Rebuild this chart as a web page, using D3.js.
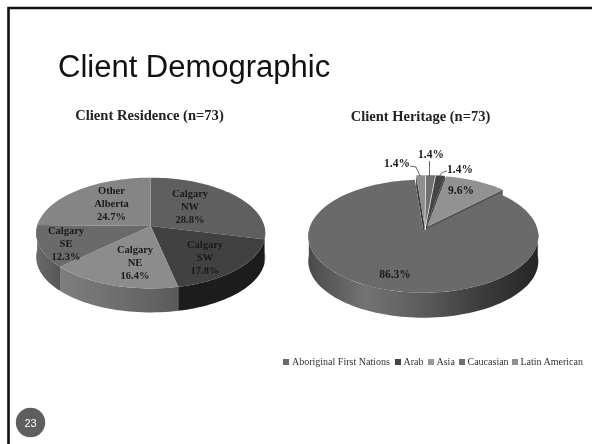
<!DOCTYPE html>
<html><head><meta charset="utf-8">
<script src="https://cdn.jsdelivr.net/npm/d3@7"></script>
<style>html,body{margin:0;background:#fff}svg{display:block;filter:blur(.3px)}</style></head>
<body><div id="c"></div>
<script>
const pageTitle = "Client Demographic";
const pageNumber = "23";
const residenceTitle = "Client Residence (n=73)";
const residenceLabels = [["Calgary","NW"],["Calgary","SW"],["Calgary","NE"],["Calgary","SE"],["Other","Alberta"]];
const residenceValues = [28.8,17.8,16.4,12.3,24.7];
const residenceTop = ["#5f5f5f","#414141","#8c8c8c","#6a6a6a","#858585"];
const residenceSide = [["#3a3a3a","#3a3a3a"],["#1c1c1c","#1c1c1c"],["#5a5a5a","#6e6e6e","#7e7e7e"],["#555555","#6a6a6a"],["#666666","#666666"]];
const heritageTitle = "Client Heritage (n=73)";
const heritageValues = [86.3,1.4,1.4,1.4,9.6];
const heritageTop = ["#6a6a6a","#8f8f8f","#707070","#444444","#929292"];
const heritageLegend = ["Aboriginal First Nations","Arab","Asia","Caucasian","Latin American"];
const legendColors = ["#6a6a6a","#444444","#999999","#707070","#8f8f8f"];

const W=592,H=444,rad=Math.PI/180;
const svg=d3.select("#c").append("svg").attr("width",W).attr("height",H).attr("viewBox",`0 0 ${W} ${H}`);
const defs=svg.append("defs");
svg.append("rect").attr("width",W).attr("height",H).attr("fill","#fff");
svg.append("path").attr("d",`M8.5,${H} V8 H${W}`).attr("fill","none").attr("stroke","#111").attr("stroke-width",2.6);

svg.append("text").attr("x",58).attr("y",77).attr("font-family","'Liberation Sans',sans-serif")
 .attr("font-size",31).attr("fill","#111").text(pageTitle);
svg.append("circle").attr("cx",30.5).attr("cy",422.5).attr("r",14.7).attr("fill","#5e5e5e");
svg.append("text").attr("x",30.5).attr("y",426.5).attr("text-anchor","middle").attr("font-family","'Liberation Sans',sans-serif")
 .attr("font-size",11).attr("fill","#fff").text(pageNumber);

const serif="'Liberation Serif',serif";
function project(o,a,r=1){
  const u=Math.sin(a)*r,v=-Math.cos(a)*r,d=1-o.k*v;
  return [o.cx+o.B*u/d,o.cy+o.A*v/d];
}
function wedgeTop(o,d){
  const n=Math.max(4,Math.ceil((d.endAngle-d.startAngle)/(2*rad)));
  const pts=d3.range(n+1).map(i=>project(o,d.startAngle+(d.endAngle-d.startAngle)*i/n));
  return "M"+[o.cx,o.cy]+"L"+pts.join("L")+"Z";
}
function wedgeSide(o,a0,a1,h){
  const n=Math.max(4,Math.ceil((a1-a0)/(2*rad)));
  const pts=d3.range(n+1).map(i=>project(o,a0+(a1-a0)*i/n));
  return "M"+pts.join("L")+"L"+pts.slice().reverse().map(p=>[p[0],p[1]+h]).join("L")+"Z";
}
function grad(id,stops,x0,x1){
  const g=defs.append("linearGradient").attr("id",id).attr("gradientUnits","userSpaceOnUse")
    .attr("x1",x0).attr("x2",x1).attr("y1",0).attr("y2",0);
  stops.forEach((c,i)=>g.append("stop").attr("offset",i/(Math.max(1,stops.length-1))).attr("stop-color",c));
  return `url(#${id})`;
}
function label(g,x,y,lines,size=10.5){
  const t=g.append("text").attr("text-anchor","middle").attr("font-family",serif).attr("font-weight","bold")
   .attr("font-size",size).attr("fill","#1a1a1a");
  lines.forEach((s,i)=>t.append("tspan").attr("x",x).attr("y",y+i*13).text(s));
}

// Left pie
const resPie=d3.pie().sort(null)(residenceValues);
const L={cx:150.7,cy:226,A:54.5,B:113.6,k:.127,h:24};
const gL=svg.append("g");
resPie.forEach((d,i)=>{
  const a0=Math.max(d.startAngle,90*rad),a1=Math.min(d.endAngle,270*rad);
  if(a1<=a0)return;
  const p0=project(L,a0),p1=project(L,a1);
  const x0=Math.min(p0[0],p1[0]),x1=Math.max(p0[0],p1[0]);
  gL.append("path").attr("d",wedgeSide(L,a0,a1,L.h)).attr("fill",grad("rs"+i,residenceSide[i],x1,x0));
});
gL.selectAll("path.t").data(resPie).join("path").attr("class","t").attr("d",d=>wedgeTop(L,d))
  .attr("fill",(d,i)=>residenceTop[i]);
const resPos=[[190,197],[205,248],[135,253],[66,234],[111.5,194]];
resPie.forEach((d,i)=>label(gL,resPos[i][0],resPos[i][1],[...residenceLabels[i],d.data.toFixed(1)+"%"]));
svg.append("text").attr("x",149.5).attr("y",120).attr("text-anchor","middle").attr("font-family",serif)
 .attr("font-weight","bold").attr("font-size",14.6).attr("fill","#222").text(residenceTitle);

// Right pie
const herPie=d3.pie().sort(null).startAngle(45*rad).endAngle(405*rad)(heritageValues);
const R={cx:423.3,cy:230.7,A:56,B:114.5,k:.097,h:25};
const offs=[[0,0],[1.3,-4.5],[2,-4.5],[2.7,-4.5],[3.6,-4]];
const gR=svg.append("g");
const sideMain=grad("hs0",["#4a4a4a","#737373","#5c5c5c","#3c3c3c","#262626"],308,538);
const main=herPie[0];
gR.append("path").attr("d",wedgeSide(R,Math.max(main.startAngle,90*rad),Math.min(main.endAngle,270*rad),R.h)).attr("fill",sideMain);
herPie.slice(1).forEach((d,j)=>{
  const i=j+1,o={...R,cx:R.cx+offs[i][0],cy:R.cy+offs[i][1]};
  const pe=project(o,d.endAngle),ps=project(o,d.startAngle);
  const wall=(p,h,c)=>gR.append("path").attr("d",`M${o.cx},${o.cy}L${p}L${p[0]},${p[1]+h}L${o.cx},${o.cy+h}Z`).attr("fill",c);
  if(i===4) wall(pe,8,"#555");
  if(i===1) wall(ps,12,"#3a3a3a");
  if(i===3) wall(pe,5,"#333");
  gR.append("path").attr("d",wedgeTop(o,d)).attr("fill",heritageTop[i]);
});
gR.append("path").attr("d",wedgeTop(R,main)).attr("fill",heritageTop[0]);
const hl=(pts)=>svg.append("path").attr("d",d3.line()(pts)).attr("fill","none").attr("stroke","#444").attr("stroke-width",.8);
hl([[410,166],[416,167],[420,176]]); hl([[429.5,161],[429.5,176]]); hl([[447,171],[442,172.5],[439,177]]);
const herPos=[[395,278],[397,167],[431,158],[460,172.5],[461,194]];
herPie.forEach((d,i)=>label(svg,herPos[i][0],herPos[i][1],[d.data.toFixed(1)+"%"],11.5));
svg.append("text").attr("x",420.5).attr("y",121).attr("text-anchor","middle").attr("font-family",serif)
 .attr("font-weight","bold").attr("font-size",14.5).attr("fill","#222").text(heritageTitle);

// Legend
const lg=svg.append("g").attr("font-family",serif).attr("font-size",10).attr("fill","#333");
const lgStarts=[283,395,428,459,512];
heritageLegend.forEach((n,i)=>{
  lg.append("rect").attr("x",lgStarts[i]).attr("y",359).attr("width",6).attr("height",6).attr("fill",legendColors[i]);
  lg.append("text").attr("x",lgStarts[i]+(i==0?9:8.5)).attr("y",364.5).text(n);
});
</script></body></html>
